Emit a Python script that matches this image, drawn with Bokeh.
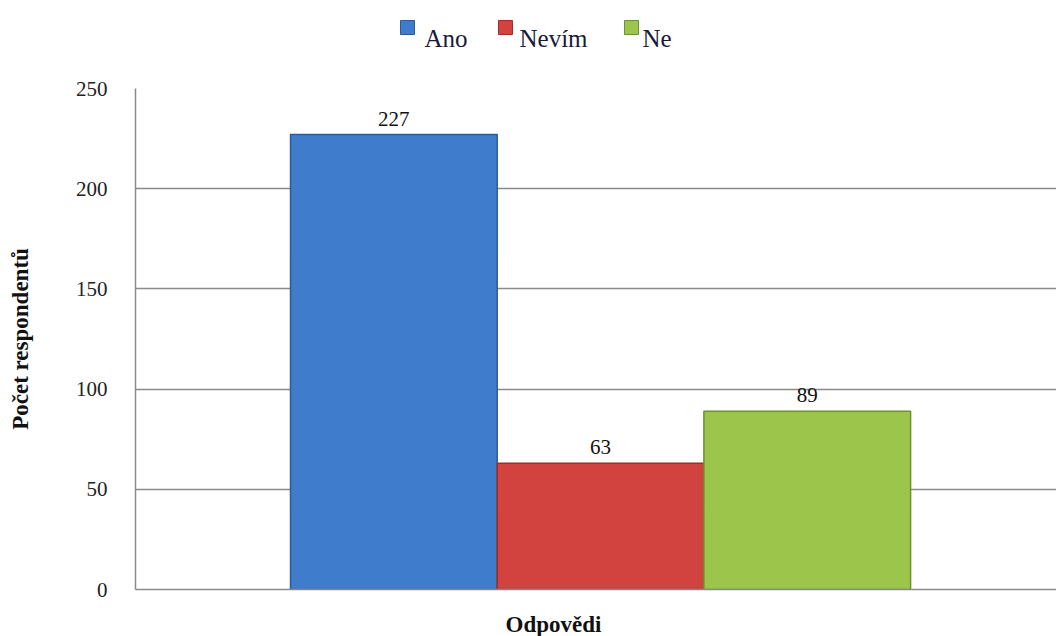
from bokeh.plotting import figure
from bokeh.models import Range1d, ColumnDataSource, FixedTicker
from bokeh.layouts import column
from bokeh.core.properties import value
from bokeh.embed import file_html
from bokeh.resources import INLINE

categories = ["Ano", "Nevím", "Ne"]
counts = [227, 63, 89]
positions = [-1, 0, 1]
fills = ["#3f7dcc", "#d2423e", "#9cc54c"]
edges = ["#2d5a98", "#9e2e2a", "#6c9330"]
y_ticks = [0, 50, 100, 150, 200, 250]
x_title = "Odpovědi"
y_title = "Počet respondentů"

# layout (page-pixel) positions for the legend strip
legend_box_x = [407, 505, 631]
legend_text_x = [424, 519, 642]

FONT = "Liberation Serif"
LEG_FONT = "Times New Roman, Liberation Serif, DejaVu Serif, serif"
W = 1056
LEFT = 135

# ---------- legend strip ----------
lg = figure(width=W, height=60, output_backend="svg", toolbar_location=None,
            x_range=Range1d(LEFT, W), y_range=Range1d(60, 0),
            x_axis_location=None, y_axis_location=None,
            min_border_left=LEFT, min_border_right=0, min_border_top=0, min_border_bottom=0)
lg.outline_line_color = None
lg.xgrid.grid_line_color = None
lg.ygrid.grid_line_color = None
lsrc = ColumnDataSource(dict(bx=legend_box_x, tx=legend_text_x, fill=fills, edge=edges,
                             cat=categories, by=[27] * 3, ty=[38] * 3))
lg.rect(x="bx", y="by", width=14, height=14, source=lsrc, fill_color="fill",
        line_color="edge", line_width=1)
lg.text(x="tx", y="ty", text="cat", source=lsrc, text_align="left", text_baseline="alphabetic",
        text_font=value(LEG_FONT), text_font_size="25px", text_color="#1a1a3a")

# ---------- main chart ----------
p = figure(width=W, height=547, output_backend="svg", toolbar_location=None,
           x_range=Range1d(-2.25, 2.206), y_range=Range1d(0, 250),
           min_border_left=LEFT, min_border_right=0, min_border_top=28, min_border_bottom=18)
p.outline_line_color = None
p.background_fill_color = "white"
p.border_fill_color = "white"

src = ColumnDataSource(dict(x=positions, top=counts, fill=fills, edge=edges, cat=categories,
                            lab=[str(c) for c in counts]))
p.vbar(x="x", top="top", width=1.0, bottom=0, source=src, fill_color="fill",
       line_color="edge", line_width=1.5)

p.text(x="x", y="top", text="lab", source=src, text_align="center", text_baseline="bottom",
       y_offset=-9, text_font=value(LEG_FONT), text_font_size="21px", text_color="#111111")

p.xaxis.ticker = FixedTicker(ticks=[])
p.xaxis.axis_line_color = "#8a8a8a"
p.xaxis.axis_line_width = 1.5
p.xaxis.major_tick_line_color = None
p.xaxis.minor_tick_line_color = None
p.xaxis.major_tick_out = 0
p.xaxis.major_label_standoff = 0
p.xaxis.major_label_text_font_size = "0px"

p.yaxis.ticker = FixedTicker(ticks=y_ticks)
p.yaxis.axis_line_color = "#8a8a8a"
p.yaxis.axis_line_width = 1.5
p.yaxis.major_tick_line_color = None
p.yaxis.minor_tick_line_color = None
p.yaxis.major_label_text_font = LEG_FONT
p.yaxis.major_label_text_font_size = "21px"
p.yaxis.major_label_text_color = "#222222"
p.yaxis.major_label_standoff = 22
p.yaxis.axis_label = y_title
p.yaxis.axis_label_text_font = FONT
p.yaxis.axis_label_text_font_style = "bold"
p.yaxis.axis_label_text_font_size = "23px"
p.yaxis.axis_label_text_color = "#111111"
p.yaxis.axis_label_standoff = 40

p.xgrid.grid_line_color = None
p.ygrid.ticker = FixedTicker(ticks=y_ticks)
p.ygrid.grid_line_color = "#8a8a8a"
p.ygrid.grid_line_width = 1.5

# ---------- x title strip ----------
bt = figure(width=W, height=29, output_backend="svg", toolbar_location=None,
            x_range=Range1d(LEFT, W), y_range=Range1d(636, 607),
            x_axis_location=None, y_axis_location=None,
            min_border_left=LEFT, min_border_right=0, min_border_top=0, min_border_bottom=0)
bt.outline_line_color = None
bt.xgrid.grid_line_color = None
bt.ygrid.grid_line_color = None
bt.text(x=[553], y=[624], text=[x_title], text_align="center", text_baseline="middle",
        text_font=value(FONT), text_font_size="23px", text_font_style="bold",
        text_color="#111111")

open("out.html", "w").write(file_html(column(lg, p, bt, spacing=0), INLINE))
